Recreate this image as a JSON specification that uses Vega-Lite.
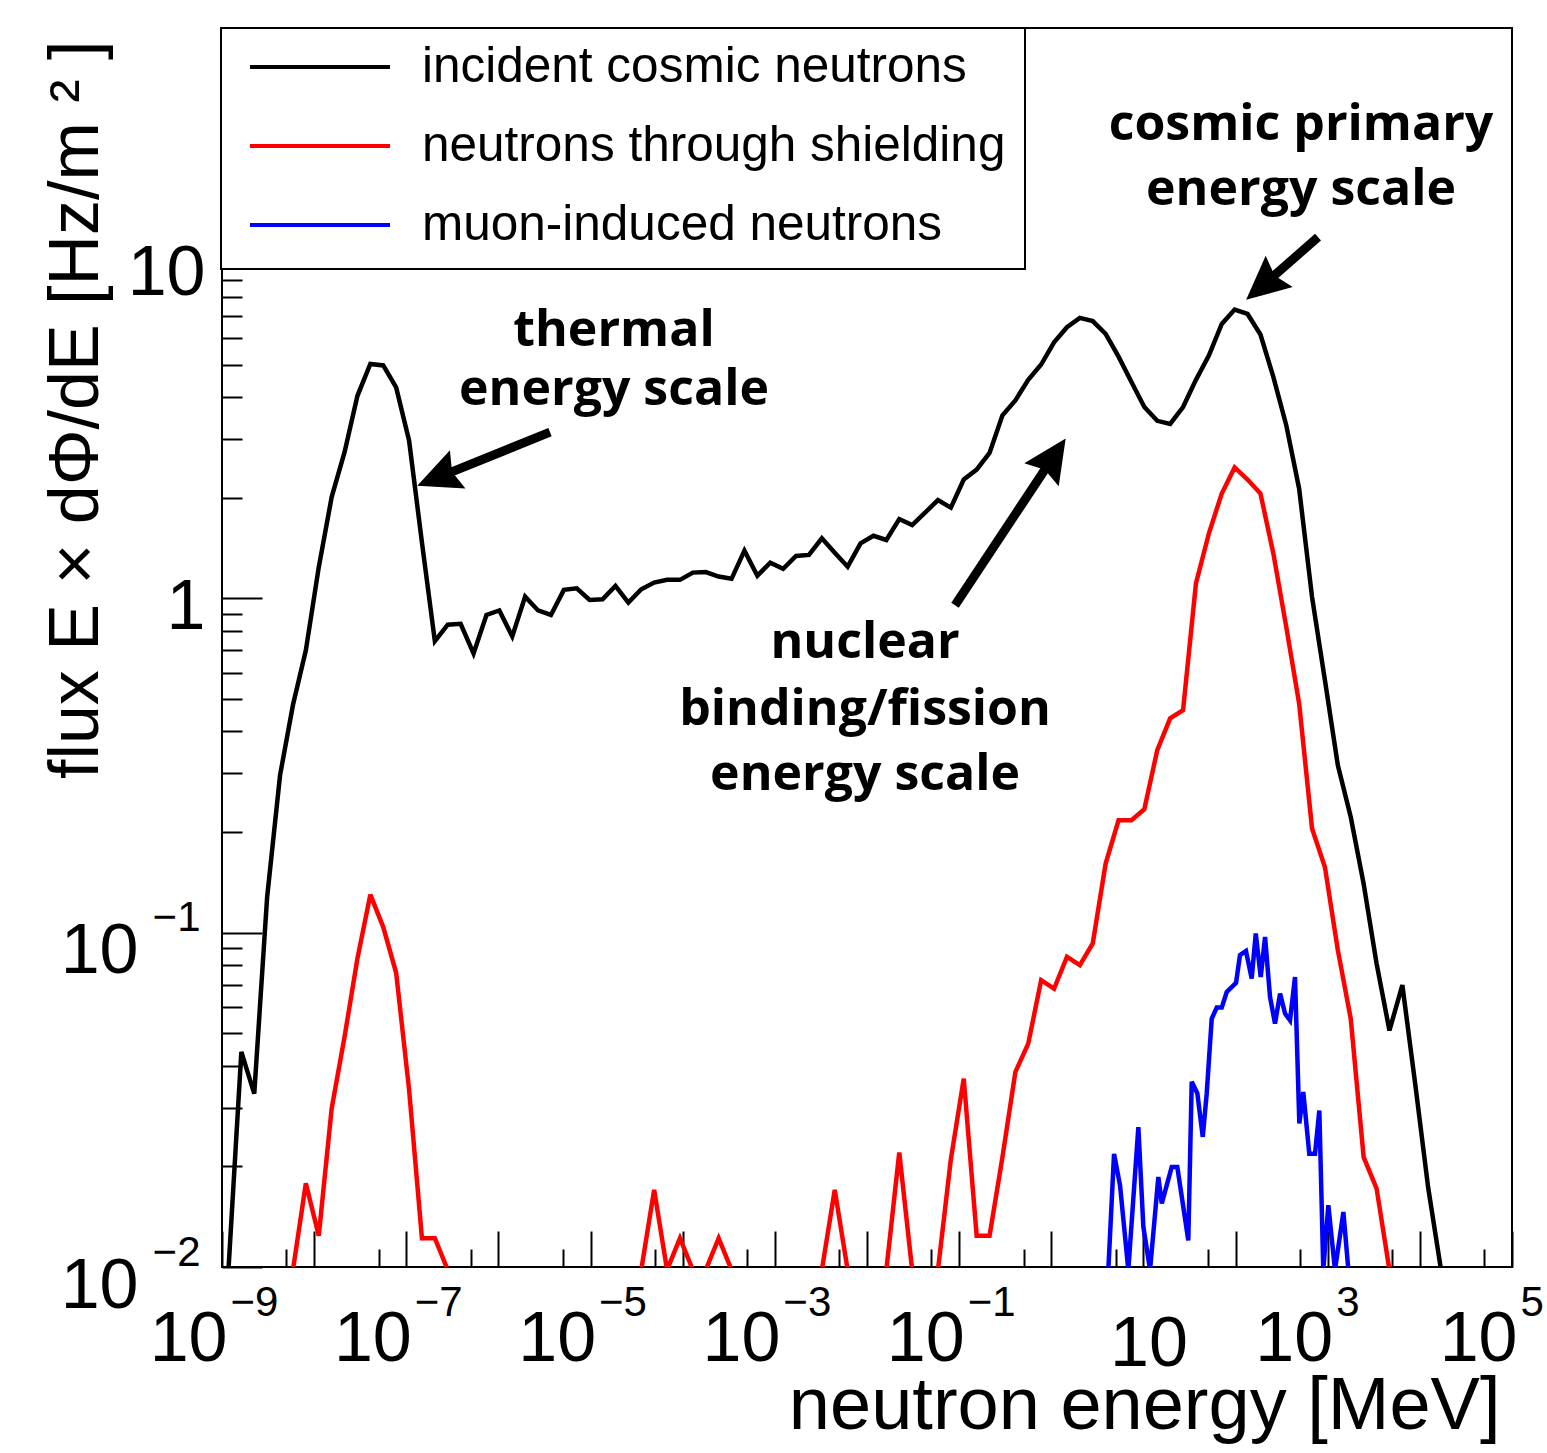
{
  "$schema": "https://vega.github.io/schema/vega-lite/v6.json",
  "width": 1290,
  "height": 1239,
  "autosize": {"type": "none"},
  "padding": {"left": 222, "top": 28, "right": 35, "bottom": 186},
  "background": "white",
  "config": {
    "view": {"stroke": "black", "strokeWidth": 2},
    "axis": {"grid": false, "domain": false, "labelOverlap": false, "labelFlush": false, "labelBound": false, "labelColor": "black", "tickColor": "black"},
    "legend": {"strokeWidth": 2}
  },
  "datasets": {
    "curves": [
      {"series": "incident cosmic neutrons", "E": 1.175e-9, "flux": 0.0098},
      {"series": "incident cosmic neutrons", "E": 1.622e-9, "flux": 0.044},
      {"series": "incident cosmic neutrons", "E": 2.239e-9, "flux": 0.033},
      {"series": "incident cosmic neutrons", "E": 3.090e-9, "flux": 0.128},
      {"series": "incident cosmic neutrons", "E": 4.266e-9, "flux": 0.296},
      {"series": "incident cosmic neutrons", "E": 5.888e-9, "flux": 0.48},
      {"series": "incident cosmic neutrons", "E": 8.128e-9, "flux": 0.70},
      {"series": "incident cosmic neutrons", "E": 1.122e-8, "flux": 1.24},
      {"series": "incident cosmic neutrons", "E": 1.549e-8, "flux": 2.01},
      {"series": "incident cosmic neutrons", "E": 2.138e-8, "flux": 2.74},
      {"series": "incident cosmic neutrons", "E": 2.951e-8, "flux": 4.04},
      {"series": "incident cosmic neutrons", "E": 4.074e-8, "flux": 5.03},
      {"series": "incident cosmic neutrons", "E": 5.623e-8, "flux": 4.98},
      {"series": "incident cosmic neutrons", "E": 7.762e-8, "flux": 4.28},
      {"series": "incident cosmic neutrons", "E": 1.072e-7, "flux": 2.97},
      {"series": "incident cosmic neutrons", "E": 1.479e-7, "flux": 1.47},
      {"series": "incident cosmic neutrons", "E": 2.042e-7, "flux": 0.745},
      {"series": "incident cosmic neutrons", "E": 2.818e-7, "flux": 0.835},
      {"series": "incident cosmic neutrons", "E": 3.890e-7, "flux": 0.84},
      {"series": "incident cosmic neutrons", "E": 5.370e-7, "flux": 0.685},
      {"series": "incident cosmic neutrons", "E": 7.413e-7, "flux": 0.893},
      {"series": "incident cosmic neutrons", "E": 1.023e-6, "flux": 0.921},
      {"series": "incident cosmic neutrons", "E": 1.413e-6, "flux": 0.77},
      {"series": "incident cosmic neutrons", "E": 1.950e-6, "flux": 1.013},
      {"series": "incident cosmic neutrons", "E": 2.692e-6, "flux": 0.921},
      {"series": "incident cosmic neutrons", "E": 3.715e-6, "flux": 0.893},
      {"series": "incident cosmic neutrons", "E": 5.129e-6, "flux": 1.061},
      {"series": "incident cosmic neutrons", "E": 7.079e-6, "flux": 1.073},
      {"series": "incident cosmic neutrons", "E": 9.772e-6, "flux": 0.99},
      {"series": "incident cosmic neutrons", "E": 1.349e-5, "flux": 0.995},
      {"series": "incident cosmic neutrons", "E": 1.862e-5, "flux": 1.091},
      {"series": "incident cosmic neutrons", "E": 2.570e-5, "flux": 0.972},
      {"series": "incident cosmic neutrons", "E": 3.548e-5, "flux": 1.066},
      {"series": "incident cosmic neutrons", "E": 4.898e-5, "flux": 1.116},
      {"series": "incident cosmic neutrons", "E": 6.761e-5, "flux": 1.137},
      {"series": "incident cosmic neutrons", "E": 9.333e-5, "flux": 1.137},
      {"series": "incident cosmic neutrons", "E": 1.288e-4, "flux": 1.195},
      {"series": "incident cosmic neutrons", "E": 1.778e-4, "flux": 1.20},
      {"series": "incident cosmic neutrons", "E": 2.455e-4, "flux": 1.163},
      {"series": "incident cosmic neutrons", "E": 3.388e-4, "flux": 1.145},
      {"series": "incident cosmic neutrons", "E": 4.677e-4, "flux": 1.39},
      {"series": "incident cosmic neutrons", "E": 6.457e-4, "flux": 1.17},
      {"series": "incident cosmic neutrons", "E": 8.913e-4, "flux": 1.28},
      {"series": "incident cosmic neutrons", "E": 1.230e-3, "flux": 1.227},
      {"series": "incident cosmic neutrons", "E": 1.698e-3, "flux": 1.34},
      {"series": "incident cosmic neutrons", "E": 2.344e-3, "flux": 1.35},
      {"series": "incident cosmic neutrons", "E": 3.236e-3, "flux": 1.513},
      {"series": "incident cosmic neutrons", "E": 4.467e-3, "flux": 1.37},
      {"series": "incident cosmic neutrons", "E": 6.166e-3, "flux": 1.245},
      {"series": "incident cosmic neutrons", "E": 8.511e-3, "flux": 1.462},
      {"series": "incident cosmic neutrons", "E": 1.175e-2, "flux": 1.54},
      {"series": "incident cosmic neutrons", "E": 1.622e-2, "flux": 1.496},
      {"series": "incident cosmic neutrons", "E": 2.239e-2, "flux": 1.728},
      {"series": "incident cosmic neutrons", "E": 3.090e-2, "flux": 1.658},
      {"series": "incident cosmic neutrons", "E": 4.266e-2, "flux": 1.806},
      {"series": "incident cosmic neutrons", "E": 5.888e-2, "flux": 1.97},
      {"series": "incident cosmic neutrons", "E": 8.128e-2, "flux": 1.87},
      {"series": "incident cosmic neutrons", "E": 0.1122, "flux": 2.27},
      {"series": "incident cosmic neutrons", "E": 0.1549, "flux": 2.43},
      {"series": "incident cosmic neutrons", "E": 0.2138, "flux": 2.725},
      {"series": "incident cosmic neutrons", "E": 0.2951, "flux": 3.53},
      {"series": "incident cosmic neutrons", "E": 0.4074, "flux": 3.915},
      {"series": "incident cosmic neutrons", "E": 0.5623, "flux": 4.51},
      {"series": "incident cosmic neutrons", "E": 0.7762, "flux": 5.01},
      {"series": "incident cosmic neutrons", "E": 1.072, "flux": 5.84},
      {"series": "incident cosmic neutrons", "E": 1.479, "flux": 6.48},
      {"series": "incident cosmic neutrons", "E": 2.042, "flux": 6.91},
      {"series": "incident cosmic neutrons", "E": 2.818, "flux": 6.76},
      {"series": "incident cosmic neutrons", "E": 3.890, "flux": 6.19},
      {"series": "incident cosmic neutrons", "E": 5.370, "flux": 5.29},
      {"series": "incident cosmic neutrons", "E": 7.413, "flux": 4.44},
      {"series": "incident cosmic neutrons", "E": 10.23, "flux": 3.74},
      {"series": "incident cosmic neutrons", "E": 14.13, "flux": 3.40},
      {"series": "incident cosmic neutrons", "E": 19.50, "flux": 3.33},
      {"series": "incident cosmic neutrons", "E": 26.92, "flux": 3.74},
      {"series": "incident cosmic neutrons", "E": 37.15, "flux": 4.51},
      {"series": "incident cosmic neutrons", "E": 51.29, "flux": 5.33},
      {"series": "incident cosmic neutrons", "E": 70.79, "flux": 6.63},
      {"series": "incident cosmic neutrons", "E": 97.72, "flux": 7.32},
      {"series": "incident cosmic neutrons", "E": 134.9, "flux": 7.10},
      {"series": "incident cosmic neutrons", "E": 186.2, "flux": 6.16},
      {"series": "incident cosmic neutrons", "E": 257.0, "flux": 4.60},
      {"series": "incident cosmic neutrons", "E": 354.8, "flux": 3.30},
      {"series": "incident cosmic neutrons", "E": 489.8, "flux": 2.13},
      {"series": "incident cosmic neutrons", "E": 676.1, "flux": 1.01},
      {"series": "incident cosmic neutrons", "E": 933.3, "flux": 0.569},
      {"series": "incident cosmic neutrons", "E": 1288, "flux": 0.317},
      {"series": "incident cosmic neutrons", "E": 1778, "flux": 0.222},
      {"series": "incident cosmic neutrons", "E": 2455, "flux": 0.140},
      {"series": "incident cosmic neutrons", "E": 3388, "flux": 0.081},
      {"series": "incident cosmic neutrons", "E": 4677, "flux": 0.051},
      {"series": "incident cosmic neutrons", "E": 6457, "flux": 0.0697},
      {"series": "incident cosmic neutrons", "E": 8913, "flux": 0.0352},
      {"series": "incident cosmic neutrons", "E": 12300, "flux": 0.0173},
      {"series": "incident cosmic neutrons", "E": 16980, "flux": 0.0098},

      {"series": "neutrons through shielding", "E": 5.888e-9, "flux": 0.0098},
      {"series": "neutrons through shielding", "E": 8.128e-9, "flux": 0.0178},
      {"series": "neutrons through shielding", "E": 1.122e-8, "flux": 0.0124},
      {"series": "neutrons through shielding", "E": 1.549e-8, "flux": 0.0298},
      {"series": "neutrons through shielding", "E": 2.138e-8, "flux": 0.0488},
      {"series": "neutrons through shielding", "E": 2.951e-8, "flux": 0.0838},
      {"series": "neutrons through shielding", "E": 4.074e-8, "flux": 0.130},
      {"series": "neutrons through shielding", "E": 5.623e-8, "flux": 0.104},
      {"series": "neutrons through shielding", "E": 7.762e-8, "flux": 0.0759},
      {"series": "neutrons through shielding", "E": 1.072e-7, "flux": 0.034},
      {"series": "neutrons through shielding", "E": 1.479e-7, "flux": 0.0122},
      {"series": "neutrons through shielding", "E": 2.042e-7, "flux": 0.0122},
      {"series": "neutrons through shielding", "E": 2.818e-7, "flux": 0.0098},
      {"series": "neutrons through shielding", "E": 3.548e-5, "flux": 0.0098},
      {"series": "neutrons through shielding", "E": 4.898e-5, "flux": 0.0170},
      {"series": "neutrons through shielding", "E": 6.761e-5, "flux": 0.0098},
      {"series": "neutrons through shielding", "E": 9.333e-5, "flux": 0.0122},
      {"series": "neutrons through shielding", "E": 1.288e-4, "flux": 0.0098},
      {"series": "neutrons through shielding", "E": 1.778e-4, "flux": 0.0098},
      {"series": "neutrons through shielding", "E": 2.455e-4, "flux": 0.0122},
      {"series": "neutrons through shielding", "E": 3.388e-4, "flux": 0.0098},
      {"series": "neutrons through shielding", "E": 3.236e-3, "flux": 0.0098},
      {"series": "neutrons through shielding", "E": 4.467e-3, "flux": 0.0170},
      {"series": "neutrons through shielding", "E": 6.166e-3, "flux": 0.0098},
      {"series": "neutrons through shielding", "E": 1.622e-2, "flux": 0.0098},
      {"series": "neutrons through shielding", "E": 2.239e-2, "flux": 0.022},
      {"series": "neutrons through shielding", "E": 3.090e-2, "flux": 0.0098},
      {"series": "neutrons through shielding", "E": 5.888e-2, "flux": 0.0098},
      {"series": "neutrons through shielding", "E": 8.128e-2, "flux": 0.0210},
      {"series": "neutrons through shielding", "E": 0.1122, "flux": 0.0366},
      {"series": "neutrons through shielding", "E": 0.1549, "flux": 0.0124},
      {"series": "neutrons through shielding", "E": 0.2138, "flux": 0.0124},
      {"series": "neutrons through shielding", "E": 0.2951, "flux": 0.0213},
      {"series": "neutrons through shielding", "E": 0.4074, "flux": 0.0383},
      {"series": "neutrons through shielding", "E": 0.5623, "flux": 0.0466},
      {"series": "neutrons through shielding", "E": 0.7762, "flux": 0.0721},
      {"series": "neutrons through shielding", "E": 1.072, "flux": 0.068},
      {"series": "neutrons through shielding", "E": 1.479, "flux": 0.0847},
      {"series": "neutrons through shielding", "E": 2.042, "flux": 0.080},
      {"series": "neutrons through shielding", "E": 2.818, "flux": 0.0929},
      {"series": "neutrons through shielding", "E": 3.890, "flux": 0.161},
      {"series": "neutrons through shielding", "E": 5.370, "flux": 0.217},
      {"series": "neutrons through shielding", "E": 7.413, "flux": 0.217},
      {"series": "neutrons through shielding", "E": 10.23, "flux": 0.234},
      {"series": "neutrons through shielding", "E": 14.13, "flux": 0.352},
      {"series": "neutrons through shielding", "E": 19.50, "flux": 0.438},
      {"series": "neutrons through shielding", "E": 26.92, "flux": 0.463},
      {"series": "neutrons through shielding", "E": 37.15, "flux": 1.109},
      {"series": "neutrons through shielding", "E": 51.29, "flux": 1.564},
      {"series": "neutrons through shielding", "E": 70.79, "flux": 2.061},
      {"series": "neutrons through shielding", "E": 97.72, "flux": 2.466},
      {"series": "neutrons through shielding", "E": 134.9, "flux": 2.270},
      {"series": "neutrons through shielding", "E": 186.2, "flux": 2.061},
      {"series": "neutrons through shielding", "E": 257.0, "flux": 1.364},
      {"series": "neutrons through shielding", "E": 354.8, "flux": 0.822},
      {"series": "neutrons through shielding", "E": 489.8, "flux": 0.485},
      {"series": "neutrons through shielding", "E": 676.1, "flux": 0.205},
      {"series": "neutrons through shielding", "E": 933.3, "flux": 0.157},
      {"series": "neutrons through shielding", "E": 1288, "flux": 0.0887},
      {"series": "neutrons through shielding", "E": 1778, "flux": 0.0553},
      {"series": "neutrons through shielding", "E": 2455, "flux": 0.0213},
      {"series": "neutrons through shielding", "E": 3388, "flux": 0.0172},
      {"series": "neutrons through shielding", "E": 4677, "flux": 0.0098},

      {"series": "muon-induced neutrons", "E": 4.159, "flux": 0.0098},
      {"series": "muon-induced neutrons", "E": 4.797, "flux": 0.0218},
      {"series": "muon-induced neutrons", "E": 5.572, "flux": 0.01755},
      {"series": "muon-induced neutrons", "E": 6.855, "flux": 0.0098},
      {"series": "muon-induced neutrons", "E": 8.810, "flux": 0.0262},
      {"series": "muon-induced neutrons", "E": 9.977, "flux": 0.0132},
      {"series": "muon-induced neutrons", "E": 11.80, "flux": 0.0098},
      {"series": "muon-induced neutrons", "E": 14.52, "flux": 0.0186},
      {"series": "muon-induced neutrons", "E": 15.81, "flux": 0.0155},
      {"series": "muon-induced neutrons", "E": 20.28, "flux": 0.0199},
      {"series": "muon-induced neutrons", "E": 23.33, "flux": 0.0199},
      {"series": "muon-induced neutrons", "E": 26.73, "flux": 0.0155},
      {"series": "muon-induced neutrons", "E": 30.69, "flux": 0.0120},
      {"series": "muon-induced neutrons", "E": 33.42, "flux": 0.0358},
      {"series": "muon-induced neutrons", "E": 38.46, "flux": 0.0331},
      {"series": "muon-induced neutrons", "E": 44.06, "flux": 0.0245},
      {"series": "muon-induced neutrons", "E": 48.64, "flux": 0.0331},
      {"series": "muon-induced neutrons", "E": 55.08, "flux": 0.0553},
      {"series": "muon-induced neutrons", "E": 62.52, "flux": 0.0597},
      {"series": "muon-induced neutrons", "E": 70.79, "flux": 0.0597},
      {"series": "muon-induced neutrons", "E": 80.17, "flux": 0.0665},
      {"series": "muon-induced neutrons", "E": 101.2, "flux": 0.0708},
      {"series": "muon-induced neutrons", "E": 111.7, "flux": 0.0857},
      {"series": "muon-induced neutrons", "E": 129.7, "flux": 0.0882},
      {"series": "muon-induced neutrons", "E": 149.6, "flux": 0.0730},
      {"series": "muon-induced neutrons", "E": 165.6, "flux": 0.0995},
      {"series": "muon-induced neutrons", "E": 187.5, "flux": 0.0737},
      {"series": "muon-induced neutrons", "E": 208.9, "flux": 0.0971},
      {"series": "muon-induced neutrons", "E": 236.6, "flux": 0.0643},
      {"series": "muon-induced neutrons", "E": 267.9, "flux": 0.0535},
      {"series": "muon-induced neutrons", "E": 304.1, "flux": 0.0658},
      {"series": "muon-induced neutrons", "E": 344.4, "flux": 0.0573},
      {"series": "muon-induced neutrons", "E": 389.9, "flux": 0.0547},
      {"series": "muon-induced neutrons", "E": 441.6, "flux": 0.0737},
      {"series": "muon-induced neutrons", "E": 492.0, "flux": 0.0269},
      {"series": "muon-induced neutrons", "E": 543.3, "flux": 0.0334},
      {"series": "muon-induced neutrons", "E": 631.0, "flux": 0.0218},
      {"series": "muon-induced neutrons", "E": 727.8, "flux": 0.0218},
      {"series": "muon-induced neutrons", "E": 810.9, "flux": 0.0294},
      {"series": "muon-induced neutrons", "E": 895.4, "flux": 0.0098},
      {"series": "muon-induced neutrons", "E": 1016, "flux": 0.0153},
      {"series": "muon-induced neutrons", "E": 1199, "flux": 0.0098},
      {"series": "muon-induced neutrons", "E": 1479, "flux": 0.0146},
      {"series": "muon-induced neutrons", "E": 1675, "flux": 0.0098}
    ],
    "notes": [
      {"text": "thermal", "E": 1.795e-5, "F": 5.69},
      {"text": "energy scale", "E": 1.795e-5, "F": 3.79},
      {"text": "nuclear", "E": 9.52e-3, "F": 0.662},
      {"text": "binding/fission", "E": 9.52e-3, "F": 0.418},
      {"text": "energy scale", "E": 9.52e-3, "F": 0.267},
      {"text": "cosmic primary", "E": 513, "F": 23.5},
      {"text": "energy scale", "E": 513, "F": 15.0}
    ],
    "arrows": [
      {"name": "thermal", "E1": 3.63e-6, "F1": 3.146, "E2": 2.18e-7, "F2": 2.30},
      {"name": "nuclear", "E1": 0.0902, "F1": 0.955, "E2": 1.059, "F2": 2.658},
      {"name": "cosmic", "E1": 785, "F1": 12.05, "E2": 196.8, "F2": 8.63}
    ]
  },
  "resolve": {"axis": {"x": "independent", "y": "independent"}},
  "layer": [
    {
      "data": {"name": "curves"},
      "mark": {"type": "line", "clip": true, "strokeWidth": 4.5, "strokeJoin": "miter", "strokeMiterLimit": 3},
      "encoding": {
        "x": {
          "field": "E", "type": "quantitative",
          "scale": {"type": "log", "domain": [1e-9, 1e5], "nice": false},
          "axis": {
            "orient": "bottom", "title": null, "labels": false, "ticks": true, "domain": false,
            "values": [1e-9, 5e-9, 1e-8, 5e-8, 1e-7, 5e-7, 1e-6, 5e-6, 1e-5, 5e-5, 1e-4, 5e-4, 1e-3, 5e-3, 0.01, 0.05, 0.1, 0.5, 1, 5, 10, 50, 100, 500, 1000, 5000, 10000, 50000, 100000],
            "tickWidth": 2,
            "tickSize": {"condition": {"test": "abs(log(datum.value)/LN10 - round(log(datum.value)/LN10)) < 0.01", "value": -36}, "value": -18}
          }
        },
        "y": {
          "field": "flux", "type": "quantitative",
          "scale": {"type": "log", "domain": [0.01, 50.9], "nice": false},
          "axis": {
            "orient": "left", "title": null, "labels": false, "ticks": true, "domain": false,
            "values": [0.01, 0.02, 0.03, 0.04, 0.05, 0.06, 0.07, 0.08, 0.09, 0.1, 0.2, 0.3, 0.4, 0.5, 0.6, 0.7, 0.8, 0.9, 1, 2, 3, 4, 5, 6, 7, 8, 9, 10, 20, 30, 40, 50],
            "tickWidth": 2,
            "tickSize": {"condition": {"test": "abs(log(datum.value)/LN10 - round(log(datum.value)/LN10)) < 0.01", "value": -40}, "value": -20}
          }
        },
        "color": {
          "field": "series", "type": "nominal",
          "scale": {"domain": ["incident cosmic neutrons", "neutrons through shielding", "muon-induced neutrons"], "range": ["#000000", "#ff0000", "#0000ff"]},
          "legend": {
            "title": null, "orient": "none", "legendX": -1, "legendY": 0, "direction": "vertical",
            "symbolType": "stroke", "symbolSize": 19600, "symbolStrokeWidth": 4, "symbolOffset": 8,
            "labelFont": "Liberation Sans", "labelFontSize": 49.5, "labelColor": "black", "labelOffset": 30, "labelLimit": 2000,
            "clipHeight": 40, "rowPadding": 29, "padding": 19,
            "fillColor": "white", "strokeColor": "black", "cornerRadius": 0
          }
        }
      }
    },
    {
      "data": {"name": "notes"},
      "mark": {"type": "text", "font": "Open Sans", "fontWeight": "bold", "fontSize": 50, "align": "center", "baseline": "alphabetic", "color": "black"},
      "encoding": {
        "x": {
          "field": "E", "type": "quantitative",
          "scale": {"type": "log", "domain": [1e-9, 1e5], "nice": false},
          "axis": {
            "orient": "bottom", "ticks": false, "domain": false,
            "values": [1e-9, 1e-7, 1e-5, 1e-3, 0.1, 10, 1000, 100000],
            "labelExpr": "'10'",
            "labelFont": "Liberation Sans", "labelFontSize": 70, "labelBaseline": "alphabetic",
            "labelAlign": {"condition": {"test": "datum.value == 10", "value": "center"}, "value": "right"},
            "labelOffset": 5,
            "labelPadding": {"condition": {"test": "datum.value == 10", "value": 98}, "value": 93},
            "title": "neutron energy [MeV]", "titleFont": "Liberation Sans", "titleFontSize": 74, "titleFontWeight": "normal", "titleColor": "black",
            "titleX": 1278, "titleY": 161, "titleAlign": "right", "titleBaseline": "alphabetic"
          }
        },
        "y": {
          "field": "F", "type": "quantitative",
          "scale": {"type": "log", "domain": [0.01, 50.9], "nice": false},
          "axis": {
            "orient": "left", "ticks": false, "domain": false,
            "values": [0.01, 0.1, 1, 10],
            "labelExpr": "datum.value == 1 ? '1' : '10'",
            "labelFont": "Liberation Sans", "labelFontSize": 70, "labelBaseline": "alphabetic", "labelAlign": "right",
            "labelPadding": {"condition": {"test": "datum.value >= 1", "value": 17}, "value": 84},
            "labelOffset": {"condition": {"test": "datum.value >= 1", "value": 30}, "value": 40},
            "title": "flux E × dΦ/dE [Hz/m ² ]", "titleFont": "Liberation Sans", "titleFontSize": 70, "titleFontWeight": "normal", "titleColor": "black",
            "titleAngle": -90, "titleX": -125, "titleY": 12, "titleAlign": "right", "titleBaseline": "alphabetic"
          }
        },
        "text": {"field": "text", "type": "nominal"}
      }
    },
    {
      "data": {"name": "arrows"},
      "mark": {"type": "rule", "color": "black", "strokeWidth": 9, "strokeCap": "butt"},
      "encoding": {
        "x": {
          "field": "E1", "type": "quantitative",
          "scale": {"type": "log", "domain": [1e-9, 1e5], "nice": false},
          "axis": {
            "orient": "bottom", "ticks": false, "domain": false, "title": null,
            "values": [1e-9, 1e-7, 1e-5, 1e-3, 0.1, 1000, 100000],
            "labelExpr": "replace('' + round(log(datum.value)/LN10), '-', '−')",
            "labelFont": "Liberation Sans", "labelFontSize": 42, "labelBaseline": "alphabetic", "labelAlign": "left",
            "labelOffset": 8, "labelPadding": 48
          }
        },
        "x2": {"field": "E2"},
        "y": {
          "field": "F1", "type": "quantitative",
          "scale": {"type": "log", "domain": [0.01, 50.9], "nice": false},
          "axis": {
            "orient": "left", "ticks": false, "domain": false, "title": null,
            "values": [0.01, 0.1],
            "labelExpr": "replace('' + round(log(datum.value)/LN10), '-', '−')",
            "labelFont": "Liberation Sans", "labelFontSize": 42, "labelBaseline": "alphabetic", "labelAlign": "right",
            "labelOffset": -2, "labelPadding": 22
          }
        },
        "y2": {"field": "F2"}
      }
    },
    {
      "data": {"name": "arrows"},
      "transform": [{"filter": "datum.name == 'thermal'"}],
      "mark": {"type": "point", "shape": "M0,-1L0.95,1L0,0.72L-0.95,1Z", "angle": 248, "size": 1900, "filled": true, "color": "black", "opacity": 1, "strokeWidth": 0},
      "encoding": {
        "x": {"field": "E2", "type": "quantitative", "scale": {"type": "log", "domain": [1e-9, 1e5], "nice": false}, "axis": null},
        "y": {"field": "F2", "type": "quantitative", "scale": {"type": "log", "domain": [0.01, 50.9], "nice": false}, "axis": null}
      }
    },
    {
      "data": {"name": "arrows"},
      "transform": [{"filter": "datum.name == 'nuclear'"}],
      "mark": {"type": "point", "shape": "M0,-1L0.95,1L0,0.72L-0.95,1Z", "angle": 33.7, "size": 1900, "filled": true, "color": "black", "opacity": 1, "strokeWidth": 0},
      "encoding": {
        "x": {"field": "E2", "type": "quantitative", "scale": {"type": "log", "domain": [1e-9, 1e5], "nice": false}, "axis": null},
        "y": {"field": "F2", "type": "quantitative", "scale": {"type": "log", "domain": [0.01, 50.9], "nice": false}, "axis": null}
      }
    },
    {
      "data": {"name": "arrows"},
      "transform": [{"filter": "datum.name == 'cosmic'"}],
      "mark": {"type": "point", "shape": "M0,-1L0.95,1L0,0.72L-0.95,1Z", "angle": 229.3, "size": 1900, "filled": true, "color": "black", "opacity": 1, "strokeWidth": 0},
      "encoding": {
        "x": {"field": "E2", "type": "quantitative", "scale": {"type": "log", "domain": [1e-9, 1e5], "nice": false}, "axis": null},
        "y": {"field": "F2", "type": "quantitative", "scale": {"type": "log", "domain": [0.01, 50.9], "nice": false}, "axis": null}
      }
    }
  ]
}
